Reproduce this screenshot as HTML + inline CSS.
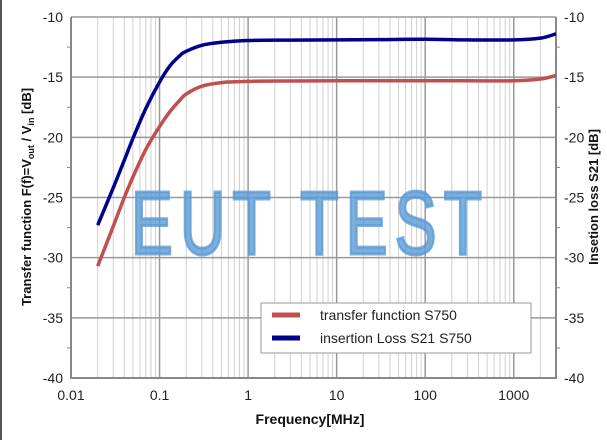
<!DOCTYPE html>
<html><head><meta charset="utf-8"><style>
body{margin:0;background:#fff;width:607px;height:440px;overflow:hidden}
svg{font-family:"Liberation Sans",sans-serif}
</style></head><body>
<svg id="chart" width="607" height="440">
<line x1="1" y1="0" x2="1" y2="440" stroke="#555" stroke-width="2"/>
<g id="grid"></g>
<g id="axes"></g>
<g id="series"></g>
<text x="310" y="254" font-size="90" fill="#5b9bd5" fill-opacity="0.8" text-anchor="middle" transform="translate(310,0) scale(0.7,1) translate(-310,0)" letter-spacing="10" stroke="#5b9bd5" stroke-opacity="0.8" stroke-width="3">EUT TEST</text>
<g>
<rect x="261" y="303" width="270" height="50" fill="#fff" stroke="#999"/>
<line x1="272" y1="315" x2="300" y2="315" stroke="#c0504d" stroke-width="5"/>
<text x="320" y="320" font-size="14" fill="#222">transfer function S750</text>
<line x1="272" y1="338" x2="300" y2="338" stroke="#00008b" stroke-width="5"/>
<text x="320" y="343" font-size="14" fill="#222">insertion Loss S21 S750</text>
</g>
<text x="310" y="424" font-size="14" font-weight="bold" text-anchor="middle" fill="#111">Frequency[MHz]</text>
<text transform="translate(31,197) rotate(-90)" font-size="13" font-weight="bold" text-anchor="middle" fill="#111">Transfer function F(f)=V<tspan font-size="9" dy="3">out</tspan><tspan dy="-3"> / V</tspan><tspan font-size="9" dy="3">in</tspan><tspan dy="-3"> [dB]</tspan></text>
<text transform="translate(598,197) rotate(-90)" font-size="13" font-weight="bold" text-anchor="middle" fill="#111">Insetion loss S21 [dB]</text>
</svg>
<script>
const freqs=[0.02,0.03,0.04,0.05,0.07,0.1,0.13,0.17,0.2,0.3,0.5,1,3,10,30,100,300,1000,2000,3000];
const s21Values=[-27.3,-24.2,-21.9,-20.1,-17.6,-15.4,-14.1,-13.2,-12.85,-12.35,-12.1,-11.95,-11.92,-11.9,-11.88,-11.85,-11.9,-11.9,-11.75,-11.4];
const transferValues=[-30.7,-27.4,-25.0,-23.3,-21.0,-19.1,-17.9,-16.9,-16.4,-15.75,-15.45,-15.35,-15.32,-15.3,-15.3,-15.3,-15.3,-15.3,-15.15,-14.85];
const xTickLabels=["0.01","0.1","1","10","100","1000"];
const yTickLabels=["-10","-15","-20","-25","-30","-35","-40"];
const L=71,R=556,T=17,B=378,xmin=-2,xmax=Math.log10(3000),ymin=-40,ymax=-10;
const NS="http://www.w3.org/2000/svg";
function xs(f){return L+(Math.log10(f)-xmin)/(xmax-xmin)*(R-L);}
function ys(v){return B-(v-ymin)/(ymax-ymin)*(B-T);}
function mk(p,tag,a){const e=document.createElementNS(NS,tag);for(const k in a)e.setAttribute(k,a[k]);p.appendChild(e);return e;}
const g=document.getElementById('grid'),ax=document.getElementById('axes'),s=document.getElementById('series');
for(let d=-2;d<=3;d++){for(let m=1;m<10;m++){const f=m*Math.pow(10,d);if(f>3000)break;const x=xs(f);
const l=mk(g,'line',{x1:x,y1:T,x2:x,y2:B,stroke:m==1?'#999':'#d0d0d0','stroke-width':m==1?1.5:1});

}}
yTickLabels.forEach(t=>{const v=+t,y=ys(v);
const l=mk(g,'line',{x1:L,y1:y,x2:R,y2:y,stroke:'#999','stroke-width':1.5});


const a=mk(ax,'text',{x:L-8,y:y+5,'font-size':14,'text-anchor':'end',fill:'#222'});a.textContent=t;


const b=mk(ax,'text',{x:R+8,y:y+5,'font-size':14,fill:'#222'});b.textContent=t;


if(v>-40){const ym=ys(v-2.5);
const t1=mk(ax,'line',{x1:L-4,y1:ym,x2:L,y2:ym,stroke:'#888'});


const t2=mk(ax,'line',{x1:R,y1:ym,x2:R+4,y2:ym,stroke:'#888'});

}
});
xTickLabels.forEach(t=>{const x=xs(+t);
const a=mk(ax,'text',{x:x,y:B+22,'font-size':14,'text-anchor':'middle',fill:'#222'});a.textContent=t;

});
const frame=mk(ax,'path',{d:`M${L} ${T}V${B}H${R}V${T}`,fill:'none',stroke:'#888','stroke-width':2});


function line(vals,col,name){
const P=freqs.map((f,i)=>[xs(f),ys(vals[i])]);
let d='M'+P[0][0].toFixed(1)+' '+P[0][1].toFixed(1);
for(let i=0;i<P.length-1;i++){const p0=P[Math.max(0,i-1)],p1=P[i],p2=P[i+1],p3=P[Math.min(P.length-1,i+2)];
const c1=[p1[0]+(p2[0]-p0[0])/6,p1[1]+(p2[1]-p0[1])/6],c2=[p2[0]-(p3[0]-p1[0])/6,p2[1]-(p3[1]-p1[1])/6];
d+=`C${c1[0].toFixed(1)} ${c1[1].toFixed(1)} ${c2[0].toFixed(1)} ${c2[1].toFixed(1)} ${p2[0].toFixed(1)} ${p2[1].toFixed(1)}`;}
const p=mk(s,'path',{d:d,fill:'none',stroke:col,'stroke-width':3.5,'stroke-linejoin':'round'});

}
line(transferValues,'#c0504d','transfer-function-line');
line(s21Values,'#00008b','insertion-loss-line');
</script>
</body></html>
